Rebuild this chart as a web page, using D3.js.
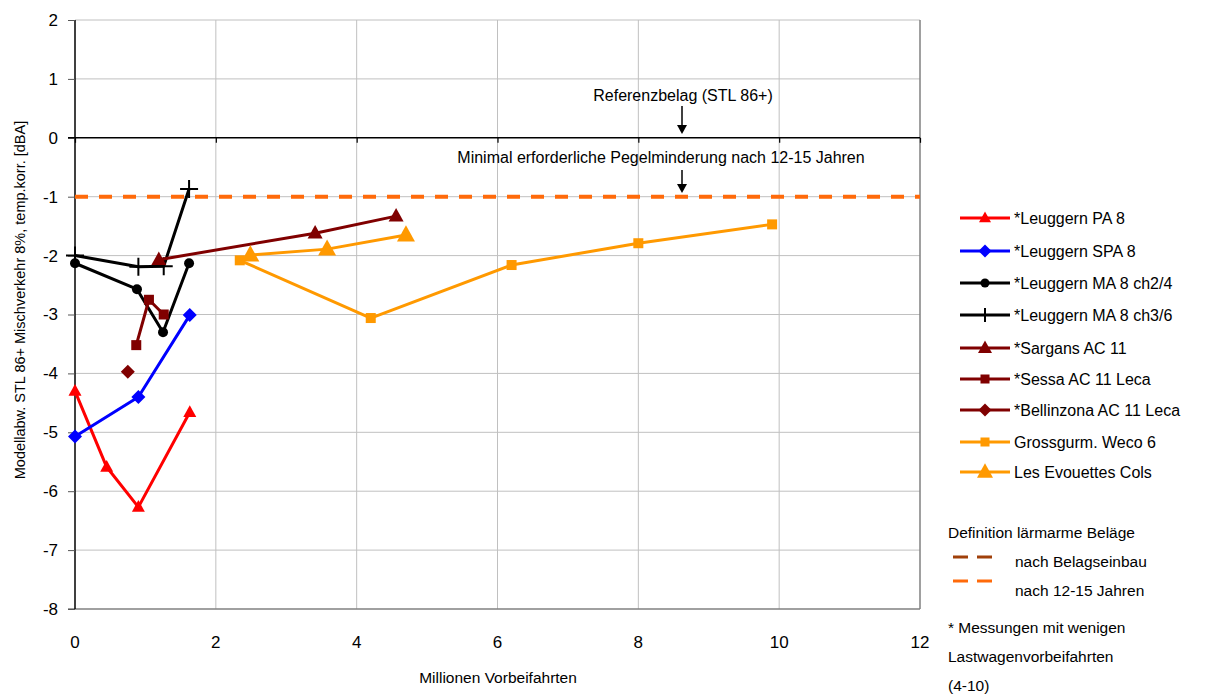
<!DOCTYPE html>
<html><head><meta charset="utf-8">
<script src="https://cdn.jsdelivr.net/npm/d3@7"></script>
<style>body{margin:0;background:#fff;} text{font-family:"Liberation Sans",Arial,sans-serif;fill:#000;}</style>
</head><body><svg id="c" width="1208" height="697"></svg>
<script>
// ---- data ----
const seriesNames = ["*Leuggern PA 8","*Leuggern SPA 8","*Leuggern MA 8 ch2/4","*Leuggern MA 8 ch3/6","*Sargans AC 11","*Sessa AC 11 Leca","*Bellinzona AC 11 Leca","Grossgurm. Weco 6","Les Evouettes Cols"];
const paX = [0, 0.45, 0.9, 1.63];           const paY = [-4.3, -5.59, -6.27, -4.66];
const spaX = [0, 0.9, 1.63];                const spaY = [-5.07, -4.4, -3.01];
const ma24X = [0, 0.88, 1.25, 1.62];        const ma24Y = [-2.13, -2.57, -3.3, -2.13];
const ma36X = [0, 0.9, 1.26, 1.62];         const ma36Y = [-2.0, -2.19, -2.18, -0.87];
const sarX = [1.19, 3.41, 4.56];            const sarY = [-2.07, -1.62, -1.33];
const sesX = [0.87, 1.05, 1.26];            const sesY = [-3.52, -2.75, -3.0];
const belX = [0.75];                        const belY = [-3.97];
const groX = [2.34, 4.2, 6.2, 8.0, 9.9];    const groY = [-2.08, -3.06, -2.16, -1.79, -1.47];
const evoX = [2.49, 3.58, 4.7];             const evoY = [-1.99, -1.89, -1.65];
const xTicks = [0,2,4,6,8,10,12];
const yTicks = [-8,-7,-6,-5,-4,-3,-2,-1,0,1,2];
const minLevel = -1;

// ---- chart ----
const svg = d3.select("#c");
const x = d3.scaleLinear().domain([0,12]).range([75,920]);
const y = d3.scaleLinear().domain([-8,2]).range([609,20]);

const g = svg.append("g");
// gridlines
g.selectAll(".hg").data(yTicks.filter(d=>d!==0 && d!==-8)).enter().append("line")
  .attr("x1",x(0)).attr("x2",x(12)).attr("y1",d=>y(d)).attr("y2",d=>y(d))
  .attr("stroke","#c0c0c0").attr("stroke-width",1);
g.selectAll(".vg").data(xTicks.filter(d=>d>0 && d<12)).enter().append("line")
  .attr("x1",d=>x(d)).attr("x2",d=>x(d)).attr("y1",y(2)).attr("y2",y(-8))
  .attr("stroke","#c0c0c0").attr("stroke-width",1);
// border right & bottom
g.append("line").attr("x1",x(12)).attr("x2",x(12)).attr("y1",y(2)).attr("y2",y(-8)).attr("stroke","#808080").attr("stroke-width",1.5);
g.append("line").attr("x1",x(0)-7).attr("x2",x(12)).attr("y1",y(-8)).attr("y2",y(-8)).attr("stroke","#808080").attr("stroke-width",1.5);

// left axis
const yAxis = d3.axisLeft(y).tickValues(yTicks).tickSize(7).tickPadding(10).tickFormat(d=>String(d));
const ya = g.append("g").attr("transform",`translate(${x(0)},0)`).call(yAxis);
ya.select(".domain").attr("stroke","#000").attr("stroke-width",1.5).attr("d",`M0,${y(2)}V${y(-8)}`);
ya.selectAll(".tick line").attr("stroke","#555");
ya.selectAll("text").style("font-size","17px").style("font-family","Liberation Sans, Arial, sans-serif").attr("fill","#000");

// zero line axis with ticks
const xAxis0 = d3.axisBottom(x).tickValues(xTicks).tickSize(5).tickFormat("");
const za = g.append("g").attr("transform",`translate(0,${y(0)})`).call(xAxis0);
za.select(".domain").attr("stroke","#000").attr("stroke-width",1.5).attr("d",`M${x(0)-7},0H${x(12)}`);
za.selectAll(".tick line").attr("stroke","#000").attr("stroke-width",1.2);

// bottom labels
g.selectAll(".xl").data(xTicks).enter().append("text")
  .attr("x",d=>x(d)).attr("y",648).attr("text-anchor","middle").style("font-size","17px").text(d=>d);

// axis titles
svg.append("text").attr("x",498).attr("y",683).attr("text-anchor","middle").style("font-size","15.5px").text("Millionen Vorbeifahrten");
svg.append("text").attr("transform","translate(25,300) rotate(-90)").attr("text-anchor","middle").style("font-size","14.5px")
  .text("Modellabw. STL 86+ Mischverkehr 8%, temp.korr. [dBA]");

// dashed minimum line
g.append("line").attr("x1",x(0)).attr("x2",x(12)).attr("y1",y(minLevel)).attr("y2",y(minLevel))
  .attr("stroke","#ff6a0a").attr("stroke-width",4).attr("stroke-dasharray","13,11");

// annotations
svg.append("text").attr("x",683).attr("y",101).attr("text-anchor","middle").style("font-size","16px").text("Referenzbelag (STL 86+)");
svg.append("text").attr("x",661).attr("y",163).attr("text-anchor","middle").style("font-size","16px").text("Minimal erforderliche Pegelminderung nach 12-15 Jahren");
function arrow(xp,y1,y2){
  svg.append("line").attr("x1",xp).attr("x2",xp).attr("y1",y1).attr("y2",y2-6).attr("stroke","#000").attr("stroke-width",1.5);
  svg.append("path").attr("d",`M${xp-5},${y2-9}L${xp+5},${y2-9}L${xp},${y2}Z`).attr("fill","#000");
}
arrow(682,106,134);
arrow(682,170,193);

// markers
function marker(sel, type, size, color){
  const h=size/2;
  if(type==="plus"){
    sel.append("path").attr("d",`M${-h},0H${h}M0,${-h}V${h}`).attr("stroke",color).attr("stroke-width",2).attr("fill","none");
  } else if(type==="diamond"){
    sel.append("path").attr("d",`M0,${-h}L${h},0L0,${h}L${-h},0Z`).attr("fill",color);
  } else if(type==="triangle"){
    const hh = size*0.9;
    sel.append("path").attr("d",`M0,${-hh*0.6}L${h},${hh*0.4}L${-h},${hh*0.4}Z`).attr("fill",color);
  } else if(type==="square"){
    sel.append("rect").attr("x",-h).attr("y",-h).attr("width",size).attr("height",size).attr("fill",color);
  } else {
    sel.append("circle").attr("r",h).attr("fill",color);
  }
}
const series = [
  {xs:paX, ys:paY, color:"#ff0000", m:"triangle", ms:13, lw:3},
  {xs:spaX, ys:spaY, color:"#0000ff", m:"diamond", ms:14, lw:3},
  {xs:ma24X, ys:ma24Y, color:"#000000", m:"circle", ms:10, lw:3},
  {xs:ma36X, ys:ma36Y, color:"#000000", m:"plus", ms:18, lw:3},
  {xs:sarX, ys:sarY, color:"#800000", m:"triangle", ms:15, lw:3},
  {xs:sesX, ys:sesY, color:"#800000", m:"square", ms:10, lw:3},
  {xs:belX, ys:belY, color:"#800000", m:"diamond", ms:14, lw:3},
  {xs:groX, ys:groY, color:"#ff9900", m:"square", ms:10, lw:3},
  {xs:evoX, ys:evoY, color:"#ff9900", m:"triangle", ms:18, lw:3}
];
const line = d3.line().x(d=>x(d[0])).y(d=>y(d[1]));
series.forEach(s=>{
  const pts = s.xs.map((v,i)=>[v,s.ys[i]]);
  if(pts.length>1) g.append("path").attr("d",line(pts)).attr("fill","none").attr("stroke",s.color).attr("stroke-width",s.lw).attr("stroke-linejoin","round");
  pts.forEach(p=>{
    const mg = g.append("g").attr("transform",`translate(${x(p[0])},${y(p[1])})`);
    marker(mg, s.m, s.ms, s.color);
  });
});

// legend
const legY = [218,251,283,315,348,379,410,442,472];
const lg = svg.append("g");
series.forEach((s,i)=>{
  const yy = legY[i];
  lg.append("line").attr("x1",960).attr("x2",1010).attr("y1",yy).attr("y2",yy).attr("stroke",s.color).attr("stroke-width",3);
  const mg = lg.append("g").attr("transform",`translate(985,${yy})`);
  marker(mg, s.m, s.m==="plus"?14:(s.m==="triangle"&&i===8?16:s.ms-1), s.color);
  lg.append("text").attr("x",1014).attr("y",yy+6).style("font-size","16px").text(seriesNames[i]);
});
// definition
lg.append("text").attr("x",948).attr("y",538).style("font-size","15.5px").text("Definition lärmarme Beläge");
lg.append("line").attr("x1",953).attr("x2",993).attr("y1",557).attr("y2",557).attr("stroke","#a0400a").attr("stroke-width",3).attr("stroke-dasharray","15,9");
lg.append("line").attr("x1",953).attr("x2",993).attr("y1",581).attr("y2",581).attr("stroke","#ff6a0a").attr("stroke-width",3).attr("stroke-dasharray","15,9");
lg.append("text").attr("x",1015).attr("y",567).style("font-size","15.5px").text("nach Belagseinbau");
lg.append("text").attr("x",1015).attr("y",596).style("font-size","15.5px").text("nach 12-15 Jahren");
lg.append("text").attr("x",948).attr("y",633).style("font-size","15.5px").text("* Messungen mit wenigen");
lg.append("text").attr("x",948).attr("y",662).style("font-size","15.5px").text("Lastwagenvorbeifahrten");
lg.append("text").attr("x",948).attr("y",691).style("font-size","15.5px").text("(4-10)");
</script></body></html>
